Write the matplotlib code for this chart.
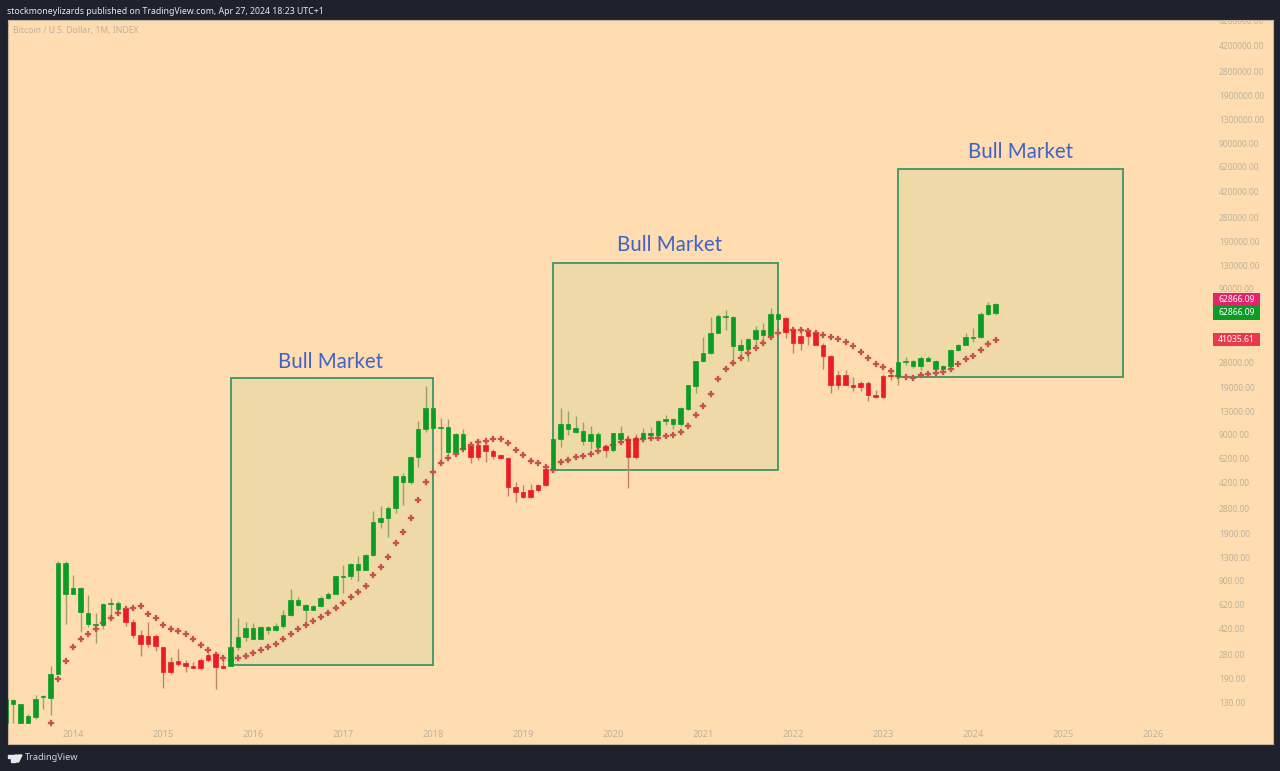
import numpy as np
import matplotlib
matplotlib.use('Agg')
import matplotlib.pyplot as plt
from matplotlib.patches import Rectangle, Ellipse, Polygon

# monthly bars, month 0 is Jan 2014
months = np.arange(-9, 124)

body_top = [140, 138, 129, 107, 141, 147, 210, 1213, 1213,
    810, 810, 550, 460, 628, 641, 643, 581, 477, 387, 381, 381,
    322, 254, 257, 247, 236, 262, 283, 285, 237, 318, 377, 429,
    429, 438, 438, 445, 530, 671, 671, 624, 611, 697, 743, 975,
    980, 1187, 1187, 1368, 2305, 2470, 2875, 4730, 4730, 6460, 9950, 13950,
    13950, 10330, 10330, 9290, 9290, 7600, 7770, 7770, 7080, 6600, 6360, 4010,
    3700, 3800, 4110, 5300, 8590, 10780, 10830, 10120, 9680, 9200, 9245, 7660,
    9340, 9340, 8590, 8720, 9450, 9450, 11400, 11750, 11750, 13880, 19900, 29300,
    33050, 45300, 59400, 59800, 58500, 37600, 41700, 47400, 47400, 61500, 61500, 57400,
    47400, 43500, 46400, 45700, 37900, 31900, 23300, 23300, 20100, 20700, 20700, 17200,
    23150, 23400, 28700, 29300, 29300, 30700, 30700, 29300, 27200, 34900, 37900, 42700,
    43100, 61800, 71300, 71700]

body_bottom = [96, 129, 97, 97, 106, 145, 143, 210, 739,
    739, 554, 458, 450, 450, 631, 581, 477, 387, 337, 337, 323,
    216, 215, 244, 235, 230, 229, 262, 233, 231, 238, 318, 377,
    365, 365, 415, 415, 445, 530, 624, 575, 575, 611, 697, 743,
    964, 975, 1080, 1080, 1360, 2305, 2470, 2875, 4360, 4360, 6460, 9950,
    10170, 10170, 6970, 6970, 7335, 6400, 6400, 7080, 6560, 6300, 3990, 3700,
    3420, 3420, 3800, 4110, 5300, 8590, 10050, 9600, 8320, 8320, 7580, 7180,
    7180, 8500, 6430, 6400, 8700, 9100, 9100, 11300, 10780, 10780, 13800, 19850,
    29100, 33050, 45300, 58500, 37300, 34900, 35200, 41500, 44000, 44000, 57100, 46200,
    38700, 38700, 43500, 37900, 31900, 20100, 19950, 20100, 19500, 19400, 17100, 16500,
    16500, 23100, 23100, 28850, 27100, 27100, 29300, 25900, 25900, 27100, 34900, 37900,
    42300, 42500, 61500, 62866.09]

high = [143, 140, 131, 111, 150, 150, 235, 1252, 1252,
    1000, 830, 727, 550, 638, 690, 665, 605, 498, 418, 477, 391,
    322, 271, 309, 262, 251, 267, 291, 289, 282, 320, 503, 477,
    465, 445, 445, 469, 575, 796, 702, 631, 620, 717, 760, 982,
    1167, 1213, 1340, 1385, 2750, 2975, 2975, 4755, 5020, 6530, 11400, 19800,
    13950, 11900, 11750, 9440, 10007, 7980, 8280, 8410, 7260, 6740, 6460, 4310,
    4130, 4200, 4180, 5670, 8590, 13880, 13300, 12340, 11110, 10540, 9600, 7770,
    9440, 10540, 9100, 9200, 10120, 10390, 11530, 12550, 11980, 14100, 20100, 29300,
    42500, 59000, 61500, 65700, 59800, 41500, 42300, 51000, 53000, 67300, 61500, 58500,
    49000, 47400, 48200, 46400, 38700, 32200, 25000, 25400, 22800, 21500, 21500, 18500,
    23700, 25400, 28700, 31100, 29800, 31700, 31700, 29800, 27500, 35200, 38300, 45300,
    49000, 63800, 74300, 72800]

low = [96, 96, 96, 96, 102, 121, 110, 210, 458,
    739, 404, 442, 342, 423, 523, 568, 447, 367, 277, 318, 302,
    168, 210, 238, 216, 228, 221, 254, 164, 229, 237, 306, 349,
    361, 365, 391, 411, 434, 525, 615, 477, 570, 605, 680, 739,
    755, 937, 900, 1080, 1350, 2110, 1810, 2670, 3010, 4180, 5520, 9600,
    9950, 5920, 6620, 6740, 7180, 5820, 6130, 5970, 6200, 6200, 3450, 3160,
    3380, 3350, 3720, 4070, 5220, 7480, 9060, 9440, 7770, 7260, 6820, 6400,
    7000, 7895, 3920, 6260, 8100, 8770, 8770, 10600, 9960, 10540, 13450, 17550,
    28700, 32550, 45300, 47400, 29800, 31400, 29300, 36300, 38700, 43100, 56600, 41900,
    33400, 34900, 37700, 37700, 25700, 17750, 18900, 19950, 18300, 18300, 15650, 16450,
    16450, 21700, 19950, 27500, 26100, 25400, 29100, 25700, 25700, 26500, 34500, 37600,
    39700, 41900, 60900, 60900]

sar = [np.nan, np.nan, np.nan, np.nan, np.nan, np.nan, 97, 194, 255,
    320, 363, 395, 423, 465, 508, 545, 584, 596, 609, 539, 503,
    450, 427, 411, 393, 361, 328, 304, 282, 269, 260, 267, 276,
    289, 306, 320, 335, 363, 395, 425, 453, 485, 516, 545, 593,
    641, 705, 764, 834, 997, 1133, 1320, 1662, 1980, 2470, 3245, 4310,
    5075, 5880, 6330, 6740, 7297, 7770, 8150, 8320, 8546, 8546, 8020, 7180,
    6600, 6060, 5820, 5520, 5230, 5970, 6130, 6400, 6500, 6740, 7080, 7400,
    7770, 8200, 8410, 8450, 8590, 8680, 8720, 8910, 9150, 9550, 10540, 12470,
    14450, 17500, 21900, 25900, 28250, 30500, 33050, 35950, 39100, 42500, 45700, 47700,
    47700, 47700, 46700, 45700, 44300, 43100, 41500, 39300, 37300, 33900, 30500, 27900,
    26700, 25000, 23100, 22800, 22400, 23400, 23850, 24300, 24800, 25900, 27900, 30100,
    31900, 34900, 38400, 41035.61]

red_months = list(range(7, 21)) + list(range(53, 64)) + [71, 74, 75] + list(range(95, 110))

year_labels = ['2014', '2015', '2016', '2017', '2018', '2019', '2020', '2021', '2022', '2023', '2024', '2025', '2026']
year_months = [12 * i for i in range(13)]

price_ticks = [130, 190, 280, 420, 620, 900, 1300, 1900, 2800, 4200, 6200, 9000, 13000, 19000, 28000,
    90000, 130000, 190000, 280000, 420000, 620000, 900000, 1300000, 1900000, 2800000, 4200000, 6200000]

# left month, right month, low price, high price
boxes = [(21, 48, 240, 22300), (64, 94, 5240, 137900), (110, 140, 22700, 609000)]
box_labels = [(34.4, 28900), (79.5, 183000), (126.4, 797000)]

bg = '#FFDDB0'
dark = '#1E222D'
axis_text = '#BFB19B'

plt.rcParams['font.family'] = ['Noto Sans', 'DejaVu Sans']

fig = plt.figure(figsize=(12.8, 7.71), dpi=100, facecolor=dark)
ax = fig.add_axes([8 / 1280, 27 / 771, 1265 / 1280, 724 / 771], facecolor=bg)

colours = ['#EC1C24' if m in red_months else '#0A9C24' for m in months]
wick_colours = ['#C4806A' if m in red_months else '#98A266' for m in months]

body_top = np.array(body_top, dtype=float)
body_bottom = np.array(body_bottom, dtype=float)

ax.vlines(months, low, high, colors=wick_colours, linewidth=1.0, zorder=3)
ax.plot(months, sar, linestyle='none', marker='P', markersize=4.4, markeredgewidth=0.2, color='#C5524C', zorder=3.5)
ax.bar(months, body_top - body_bottom, bottom=body_bottom, width=0.64, color=colours, edgecolor=colours, linewidth=0.5, zorder=4)

for (left, right, bottom, top), (tx, ty) in zip(boxes, box_labels):
    ax.add_patch(Rectangle((left, bottom), right - left, top - bottom, facecolor=(105 / 255, 190 / 255, 96 / 255, 0.1),
                           edgecolor='#4C9A6C', linewidth=1.4, zorder=2))
    ax.text(tx, ty, 'Bull Market', color='#3F63C8', fontsize=14.8, ha='center', va='center', family='Lato')

ax.set_yscale('log')
ax.set_xlim(-8.667, 160)
ax.set_ylim(69.1, 6.39e6)
ax.set_xticks([])
ax.set_yticks([])
ax.minorticks_off()
for s in ax.spines.values():
    s.set_color('#C4B59A')
    s.set_linewidth(0.8)

for v in price_ticks:
    ax.text(0.9573, v, f'{v:.2f}', transform=ax.get_yaxis_transform(), color=axis_text, fontsize=6.1,
            ha='left', va='center', clip_on=True, fontweight='medium')
for m, label in zip(year_months, year_labels):
    ax.text(m, 0.0138, label, transform=ax.get_xaxis_transform(), color=axis_text, fontsize=6.6,
            ha='center', va='center', fontweight='semibold')

fig.text(13 / 1280, 1 - 31 / 771, 'Bitcoin / U.S. Dollar, 1M, INDEX', color=axis_text, fontsize=6.2, va='center')
fig.text(7 / 1280, 1 - 11 / 771, 'stockmoneylizards published on TradingView.com, Apr 27, 2024 18:23 UTC+1',
         color='#E8E9EC', fontsize=6.3, va='center', fontweight='semibold')


def price_tag(y0, y1, colour, label):
    fig.add_artist(Rectangle((1213 / 1280, 1 - y1 / 771), 46.5 / 1280, (y1 - y0) / 771, transform=fig.transFigure,
                             facecolor=colour, edgecolor='none'))
    fig.text(1236.3 / 1280, 1 - (y0 + y1) / 2 / 771, label, color='white', fontsize=6.2, ha='center', va='center',
             fontweight='medium')


price_tag(292.7, 306, '#E0246E', '62866.09')
price_tag(306, 319.5, '#0A9C24', '62866.09')
price_tag(332.7, 345.7, '#E83A4C', '41035.61')

# TradingView logo in the bottom bar
logo = '#E8E9EC'
fig.add_artist(Rectangle((7.5 / 1280, 1 - 757.5 / 771), 7 / 1280, 2.5 / 771, transform=fig.transFigure, color=logo))
fig.add_artist(Rectangle((10.5 / 1280, 1 - 762 / 771), 4 / 1280, 6 / 771, transform=fig.transFigure, color=logo))
fig.add_artist(Ellipse((16.3 / 1280, 1 - 756.3 / 771), 2.6 / 1280, 2.6 / 771, transform=fig.transFigure, color=logo))
fig.add_artist(Polygon([(18.5 / 1280, 1 - 755 / 771), (22 / 1280, 1 - 755 / 771), (18.5 / 1280, 1 - 762 / 771), (15 / 1280, 1 - 762 / 771)],
                       transform=fig.transFigure, color=logo))
fig.text(25 / 1280, 1 - 758 / 771, 'TradingView', color='#D1D4DC', fontsize=6.6, va='center')

fig.savefig('out.png', dpi=100, facecolor=dark)
